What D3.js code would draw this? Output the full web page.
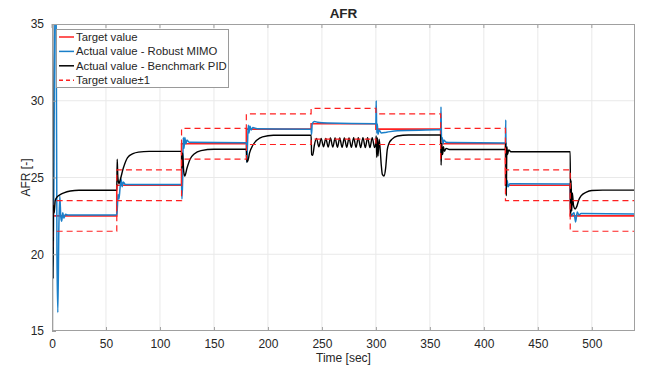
<!DOCTYPE html>
<html>
<head>
<meta charset="utf-8">
<script src="https://cdn.jsdelivr.net/npm/d3@7"></script>
<style>
  body { margin: 0; background: #fff; }
  text { font-family: "Liberation Sans", Arial, sans-serif; fill: #262626; }
</style>
</head>
<body>
<svg id="main_chart" width="645" height="367"></svg>
<script>
// step changes of the AFR set point (sec) and the target held from each one
const stepTimes = [0, 0.5, 60, 120, 180, 240, 300, 360, 420, 480, 540];
const targetVals = [21.5, 22.5, 24.5, 27.2, 28.15, 28.5, 28.15, 27.2, 24.5, 22.5, 22.5];

// Actual value - Robust MIMO, [time, AFR]
const mimo = [
  [0, 21.5], [0.8, 18.4], [1.8, 25], [2.6, 36], [3.8, 36], [4.6, 20], [5.4, 16.2], [6.3, 21.5],
  [7.2, 23.8], [8.2, 22.4], [9, 22.15], [10, 22.7], [11, 22.35], [12.5, 22.6], [15, 22.55], [60, 22.55],
  [60.5, 23.0], [61.2, 23.9], [62, 23.6], [63, 24.3], [64, 24.9], [65, 24.4], [66, 24.7], [68, 24.55], [120, 24.55],
  [120.4, 23.6], [121, 24.8], [121.6, 27.6], [122.3, 26.9], [123, 27.6], [124, 27.2], [125, 27.45], [127, 27.3], [180, 27.27],
  [180.4, 26.0], [181, 27.0], [181.8, 28.4], [182.5, 27.9], [183.3, 28.35], [184.5, 28.1], [186, 28.25], [190, 28.18], [240, 28.15],
  [240.4, 27.8], [241, 28.5], [243, 28.65], [246, 28.6], [255, 28.55], [300, 28.5],
  [300.3, 30.0], [300.8, 27.9], [301.3, 28.5], [302, 27.8], [303, 28.1], [305, 27.9], [310, 27.95], [320, 28.05], [360, 28.12],
  [360.3, 29.6], [360.8, 27.5], [361.4, 27.6], [362.2, 27.2], [363, 27.45], [365, 27.3], [370, 27.28], [420, 27.25],
  [420.3, 28.75], [420.9, 24.3], [421.6, 24.8], [422.5, 24.4], [424, 24.6], [480, 24.58],
  [480.4, 22.5], [482, 22.6], [483.5, 22.7], [485, 22.1], [486.5, 22.75], [488, 22.55], [490, 22.65], [540, 22.62]
];

// Actual value - Benchmark PID, [time, AFR]
const pid = [
  [0.4, 15], [0.6, 36], [0.9, 18.4], [1.3, 23.2], [2, 22.7], [3, 23.5], [5, 23.75], [8, 23.9], [11, 24.0],
  [17, 24.12], [25, 24.17], [60, 24.17],
  [60.4, 26.2], [61, 25.0], [62, 24.6], [63, 24.8], [66, 25.6], [70, 26.3], [75, 26.55], [80, 26.65], [90, 26.7], [120, 26.7],
  [120.4, 25.6], [121, 26.6], [122, 25.4], [123, 25.1], [125, 25.6], [128, 26.2], [132, 26.55], [138, 26.75], [150, 26.84], [180, 26.84],
  [180.5, 26.0], [181.5, 26.1], [183, 26.6], [186, 27.1], [190, 27.45], [195, 27.65], [205, 27.75], [240, 27.75],
  [240.5, 26.5], [241.5, 26.45], [243, 27.1], [245, 27.55], [247.2, 27.0], [249.3, 27.55], [251.5, 27.0],
  [253.6, 27.55], [255.8, 26.98], [257.9, 27.57], [260.1, 26.98], [262.2, 27.57], [264.4, 26.97], [266.5, 27.58],
  [268.7, 26.97], [270.8, 27.58], [273, 26.96], [275.1, 27.58], [277.3, 26.96], [279.4, 27.6], [281.6, 26.96],
  [283.7, 27.6], [285.9, 26.95], [288, 27.6], [290.2, 26.95], [292.3, 27.6], [294.5, 26.95], [296.6, 27.6],
  [298.8, 26.95], [300, 27.3],
  [300.3, 27.7], [300.8, 26.3], [301.3, 27.6], [302, 26.4], [303, 27.5], [304, 26.8], [305, 25.8], [306, 25.2],
  [307.5, 25.1], [309, 25.6], [310.5, 26.8], [312, 27.2], [315, 27.5], [320, 27.7], [330, 27.77], [360, 27.77],
  [360.4, 25.8], [361, 27.2], [361.8, 26.5], [362.6, 27.0], [363.5, 26.7], [365, 26.9], [368, 26.82], [420, 26.84],
  [420.3, 27.3], [420.8, 23.8], [421.3, 27.0], [422, 26.5], [423, 26.8], [425, 26.68], [480, 26.68],
  [480.3, 22.5], [480.8, 24.8], [481.4, 22.8], [482, 24.0], [483, 23.2], [484.5, 22.95], [486, 23.1],
  [488, 23.55], [490, 23.8], [495, 24.05], [500, 24.15], [510, 24.18], [540, 24.18]
];

const xTicks = [0, 50, 100, 150, 200, 250, 300, 350, 400, 450, 500];
const yTicks = [15, 20, 25, 30, 35];
const legendLabels = ['Target value', 'Actual value - Robust MIMO', 'Actual value - Benchmark PID', 'Target value\u00b11'];

const svg = d3.select('#main_chart');
const plotLeft = 52, plotRight = 635, plotTop = 24, plotBottom = 331;

const xScale = d3.scaleLinear().domain([0, 540]).range([plotLeft, plotRight]);
const yScale = d3.scaleLinear().domain([15, 35]).range([plotBottom, plotTop]);

svg.append('clipPath').attr('id', 'plot_clip').append('rect')
  .attr('x', plotLeft).attr('y', plotTop).attr('width', plotRight - plotLeft).attr('height', plotBottom - plotTop);

// grid
const grid = svg.append('g').attr('id', 'grid');
grid.selectAll('line.gx').data(xTicks.slice(1)).enter().append('line').attr('class', 'gx')
  .attr('x1', d => xScale(d)).attr('x2', d => xScale(d)).attr('y1', plotTop).attr('y2', plotBottom)
  .attr('stroke', '#e9e9e9').attr('stroke-width', 1);
grid.selectAll('line.gy').data(yTicks.slice(1, -1)).enter().append('line').attr('class', 'gy')
  .attr('y1', d => yScale(d)).attr('y2', d => yScale(d)).attr('x1', plotLeft).attr('x2', plotRight)
  .attr('stroke', '#e9e9e9').attr('stroke-width', 1);

// target step series
const target = stepTimes.map((t, i) => [t, targetVals[i]]);
const stepLine = d3.line().x(d => xScale(d[0])).y(d => yScale(d[1])).curve(d3.curveStepAfter);
const dataLine = d3.line().x(d => xScale(d[0])).y(d => yScale(d[1])).curve(d3.curveMonotoneX);

const plot = svg.append('g').attr('clip-path', 'url(#plot_clip)');
plot.append('path').datum(target).attr('d', stepLine)
  .attr('fill', 'none').attr('stroke', '#ff2020').attr('stroke-width', 1.6);
plot.append('path').datum(mimo).attr('d', dataLine)
  .attr('fill', 'none').attr('stroke', '#1a7fc9').attr('stroke-width', 1.5);
plot.append('path').datum(pid).attr('d', dataLine)
  .attr('fill', 'none').attr('stroke', '#000').attr('stroke-width', 1.4);
[1, -1].forEach(function(off) {
  plot.append('path').datum(target.map(d => [d[0], d[1] + off])).attr('d', stepLine)
    .attr('fill', 'none').attr('stroke', '#ff2020').attr('stroke-width', 1.2)
    .attr('stroke-dasharray', '6,4');
});

// axes box and ticks
svg.append('rect').attr('x', plotLeft + 0.5).attr('y', plotTop + 0.5)
  .attr('width', plotRight - plotLeft - 1).attr('height', plotBottom - plotTop - 1)
  .attr('fill', 'none').attr('stroke', '#a0a0a0').attr('stroke-width', 1);
const xAxis = d3.axisBottom(xScale).tickValues(xTicks).tickSizeInner(-4).tickSizeOuter(0).tickPadding(8);
const yAxis = d3.axisLeft(yScale).tickValues(yTicks).tickSizeInner(-4).tickSizeOuter(0).tickPadding(8);
const gx = svg.append('g').attr('transform', 'translate(0,' + plotBottom + ')').call(xAxis);
const gy = svg.append('g').attr('transform', 'translate(' + plotLeft + ',0)').call(yAxis);
[gx, gy].forEach(function(g) {
  g.select('.domain').remove();
  g.selectAll('line').attr('stroke', '#a0a0a0');
  g.selectAll('text').attr('font-size', 12).attr('fill', '#262626')
    .style('font-family', '"Liberation Sans", Arial, sans-serif');
});
svg.append('g').selectAll('line').data(xTicks).enter().append('line')
  .attr('x1', d => xScale(d)).attr('x2', d => xScale(d)).attr('y1', plotTop).attr('y2', plotTop + 4)
  .attr('stroke', '#a0a0a0');

// titles
svg.append('text').attr('x', (plotLeft + plotRight) / 2).attr('y', 18).attr('text-anchor', 'middle')
  .attr('font-size', 13.5).attr('font-weight', 'bold').text('AFR');
svg.append('text').attr('x', (plotLeft + plotRight) / 2).attr('y', 362).attr('text-anchor', 'middle')
  .attr('font-size', 12).text('Time [sec]');
svg.append('text').attr('transform', 'translate(30,' + (plotTop + plotBottom) / 2 + ') rotate(-90)')
  .attr('text-anchor', 'middle').attr('font-size', 12).text('AFR [-]');

// legend
const legend = svg.append('g').attr('id', 'legend');
legend.append('rect').attr('x', 56.5).attr('y', 29.5).attr('width', 172).attr('height', 58)
  .attr('fill', '#fff').attr('stroke', '#9a9a9a').attr('stroke-width', 1);
const legendStyles = [
  { stroke: '#ff2020', dash: null },
  { stroke: '#1a7fc9', dash: null },
  { stroke: '#000', dash: null },
  { stroke: '#ff2020', dash: '4,3' }
];
legendLabels.forEach(function(label, i) {
  const y = 37 + i * 14.4;
  legend.append('line').attr('x1', 59).attr('x2', 74).attr('y1', y).attr('y2', y)
    .attr('stroke', legendStyles[i].stroke).attr('stroke-width', 1.5)
    .attr('stroke-dasharray', legendStyles[i].dash);
  legend.append('text').attr('x', 76).attr('y', y + 4).attr('font-size', 11.3).text(label);
});
</script>
</body>
</html>
